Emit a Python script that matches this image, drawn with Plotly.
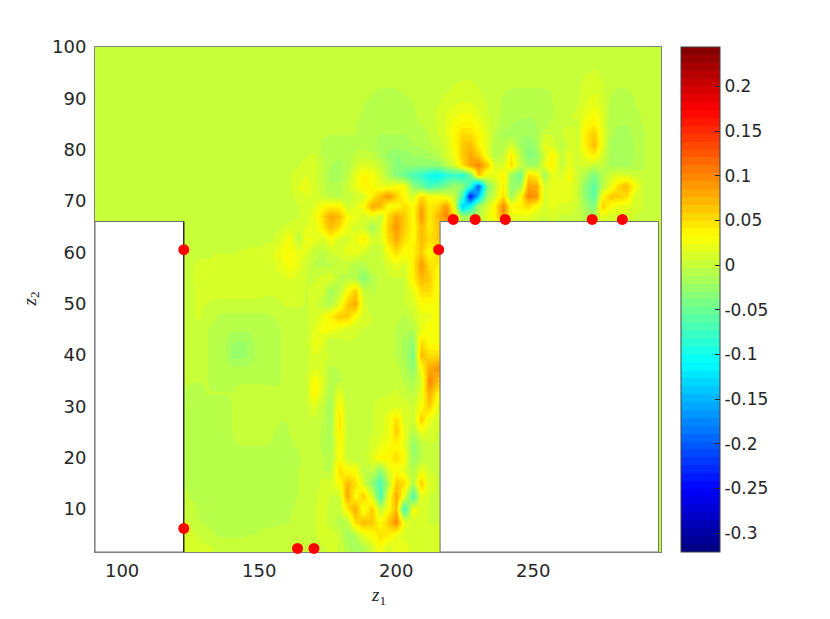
# Vorticity-style field in a cavity (units of 0.01)
import numpy as np
import plotly.graph_objects as go

Z1_UPPER = list(range(155, 297, 3))
Z1_LOWER = list(range(122, 219, 3))
Z1_ALL = [90] + list(range(122, 297, 3))

Z2_UPPER = [98, 94, 91, 89, 87, 85, 83, 81, 79, 77, 75, 73, 71, 69, 67]
Z2_LOWER = [65, 62.5, 60, 57.5, 55, 52.5, 50, 47.5, 45, 42.5, 40, 37.5, 35,
            32.5, 30, 27.5, 25, 22.5, 20, 17.5, 15, 12.5, 10, 7.5, 5, 2.5]

FIELD_UPPER = [
    [0, 0, 0, 0, 0, 0, 0, 0, 0, 0, 0, 0, 0, 0, 0, 0, 0, 0, 0, 0, 0, 0, 0, 0,
     0, 0, 0, 0, 0, 0, 0, 0, 0, 0, 0, 0, 0, 0, 0, 0, 0, 0, 0, 0, 0, 0, 0, 0],
    [0, 0, 0, 0, 0, 0, 0, 0, 0, 0, 0, 0, 0, 0, 0, 0, 0, 0, 0, 0, 0, 0, .3, .5,
     .5, .3, 0, 0, 0, 0, 0, 0, 0, 0, 0, 0, 0, .3, .7, 1, .5, 0, 0, 0, 0, 0, 0, 0],
    [0, 0, 0, 0, 0, 0, 0, 0, 0, 0, 0, 0, -.3, -.5, -.5, -.5, -.3, 0, 0, 0, .3, .5, 1, 1,
     1, .7, .3, 0, -.3, -.5, -.5, -.5, -.5, -.5, -.3, 0, 0, .3, 1, 1.5, .7, -.3, -.5, -.5, -.2, 0, 0, 0],
    [0, 0, 0, 0, 0, 0, 0, 0, 0, 0, 0, -.3, -.7, -1, -1, -1, -.7, -.3, 0, .3, .5, 1, 1.3, 1.5,
     1.5, 1, .5, 0, -.5, -.7, -.7, -.8, -.8, -.7, -.3, 0, .2, .5, 1.5, 2, 1, -.5, -.8, -.8, -.3, 0, 0, 0],
    [0, 0, 0, 0, 0, 0, 0, 0, 0, 0, 0, -.5, -1, -1, -1, -1, -1, -.5, 0, .3, .7, 1.5, 2, 2.5,
     2.5, 1.5, .7, 0, -.5, -1, -1, -1, -1, -.8, -.5, .3, .5, .7, 2, 3, 1.5, -.7, -1, -1, -.5, -.2, 0, 0],
    [0, 0, 0, 0, 0, 0, 0, 0, -.2, -.3, -.3, -.7, -1, -1.2, -1, -1, -1, -.5, -.3, 0, .8, 1.5, 3, 3.5,
     3.5, 2.5, 1, 0, -.7, -1.2, -1.5, -1.7, -1.2, -1, 0, .5, .5, .5, 3, 4, 1.5, -1, -1.2, -1.2, -.7, -.2, 0, 0],
    [0, 0, 0, 0, 0, 0, -.2, -.3, -.3, -.3, -.3, -.7, -1, -1.2, -1.2, -1.2, -1.2, -1, -.7, -.2, .5, 1.5, 3.5, 5,
     5, 3.5, 1.5, -.5, -1.5, -1.5, -2, -2, -1.5, .5, .5, .5, 1, .5, 4, 6, 2, -1, -1.5, -1.5, -1, -.5, 0, 0],
    [0, 0, 0, 0, .2, .2, -.5, -.7, -.8, -.7, -.5, -.7, -1, -1.5, -1.5, -1.7, -1.5, -1.2, -1, -.5, 0, 1, 3, 6,
     7, 4, 1.5, -1, -1, 1, -2, -3, -2, 2, 1, -.7, 1, .5, 4, 7, 2, -1.5, -2, -2, -1, -.5, 0, 0],
    [0, 0, 0, .2, .5, .7, -.5, -1, -1, -.8, -.2, .2, 0, -1.5, -2.5, -3, -2.5, -2, -2, -1.5, -1, 1, 2.5, 6,
     8, 6, 2, -1, 0, 4, -.5, -3.5, -3, .5, 4, 0, 2, .5, 2.5, 4, 1, -1.5, -2, -2, -1, -.5, 0, 0],
    [0, 0, .2, .5, 1, 1, 0, -1.2, -1.5, -1, .5, 1.5, 1, 0, -1.5, -3.5, -3, -3, -3, -3, -3, -1, 1, 5,
     8, 10, 6, 1, 1, 5, 0, -2, -2, 2, 4, 0, 2, .5, 1, 0, 0, -1.5, -1.5, -1.5, -1, -.5, 0, 0],
    [0, 0, .5, 1, 1.5, 1, -.2, -1.5, -1.5, -.5, 2, 3.5, 3, 1, -1.5, -3.5, -5, -7, -8, -10, -11, -9, -8, -9,
     -5, 6, 2, 2, 4, -2, -5, 5, 4, -2, 2, 1, 3, .5, -1.5, -4, -1, .5, 1.5, 1, .5, 0, 0, 0],
    [0, 0, .5, 1.5, 2, 1, 0, -1, -1, .5, 2, 4, 3, 2, 2, 3, 3, -3, -5, -7, -6, -4, -2, -3,
     -8, -20, -4, 0, 4, -3, -2, 8, 8, 1, 2, 2, 2, .5, -3, -6, -1, 2, 5, 7, 3, 0, 0, 0],
    [0, 0, .3, 1, 1.5, 1, .3, -.5, -.5, 0, .5, 1, 4, 7, 9, 6, 3, 1, 5, 3, 3, 2, 0, -7,
     -24, -14, -2, 1, 5, -2, 3, 10, 9, 1, 2, 2, 2, .5, -3, -6, 3, 6, 6, 5, 1, .5, 0, 0],
    [0, 0, .2, .5, 1, 1.5, 3, 4, 3.5, .5, 1.5, 3, 8, 7, 3, 3, 5, 3, 8, 4, 5, 9, 2, -14,
     -10, -2, 1, 4, 10, 3, 4, 5, 3, 1, 2, 1, 1, .5, -2, -4, 6, 3, 2, 2, 1, .5, 0, 0],
    [0, 0, .2, .5, 1, 2, 5, 8, 7, 3, 2, 1, 2, 0, 5, 8, 6, 3, 9, 4, 7, 10, 5, -2,
     -2, -1, 2, 4, 9, 2, 2, 2, 1, .5, 1, .5, .5, .3, -1, -1, 2, 1, 1, 1, .5, .3, 0, 0],
]

FIELD_LOWER = [
    [0, 0, 0, 0, 0, 0, 0, 0, 0, 0, 0, .3, .5, 1, 1, 1.5, 1.5, 4, 7, 5, 2, 1, 1, -2, 1, 6, 9, 6, 3, 7, 4, 6, 6],
    [0, 0, 0, 0, 0, 0, 0, 0, 0, 0, .3, .5, 1.5, 3, -.5, 2.5, 2, 1, 3, 1, 1, 2, 4, 1, 1, 5, 8, 5, 3, 7, 5, 6, 6],
    [0, .3, .3, .3, .5, .5, .5, .7, .8, 1, 1, 1.5, 2.5, 3, 2, 1.5, 0, -.5, .5, 1, 2, 2, 1, 0, 0, 3, 5, 3, 4, 6, 3, 5, 5],
    [.3, .5, .8, .8, 1, 1, 1, 1, 1, 1, 1, 1.2, 2, 3, 2, .5, -.5, -.5, -.5, 0, 0, -1, -1, .5, 0, 1, 2, 1, 4, 9, 5, 4, 4],
    [.2, .5, .8, 1, 1.2, 1.3, 1.3, 1.2, 1, 1, 1, 1, 1.2, 1.5, 1.2, .5, .3, 1, 1.5, -.5, -.5, -.5, -3.5, -1, 0, .5, .5, .5, 4, 7, 6, 3, 3],
    [.2, .5, .7, 1, 1, 1, 1, 1, 1, 1, .8, .7, .8, 1, 1, .5, 1, 1, -2, -.5, 3, 6, .5, -.5, 0, .5, .5, .5, 2, 5, 5, 3, 3],
    [.2, .5, .7, .5, .2, .2, .2, .2, .2, .2, .2, .3, .5, .7, .7, .5, 1, -.5, -1, 2, 6, 8, 1, 0, 0, .5, .5, .5, 1, 3, 3, 3, 3],
    [.2, .5, .7, .2, -.3, -.5, -.5, -.5, -.5, -.5, -.5, -.3, -.2, 0, .2, .3, 1, 2, 4, 6, 6, 3, 1, .5, .5, .5, 0, -.5, .5, 2, 2, 3, 3],
    [.2, .5, .3, -.3, -.5, -.7, -1, -1, -1, -.7, -.5, -.5, -.3, -.2, 0, .3, 1.5, 3, 2.5, 2, 1, .7, .5, .5, .5, .3, -.5, -1, -1, 2, 3, 3, 3],
    [.2, .3, 0, -.3, -.5, -1, -2, -2.3, -2, -1, -.5, -.5, -.3, -.3, -.2, 0, 2.5, 1.5, -.5, 0, .5, .5, .3, .3, .3, 0, -.5, -1.5, -3, 5, 3, 3, 3],
    [0, 0, 0, -.3, -.5, -1, -2.5, -2.5, -2, -1, -.5, -.5, -.3, -.2, 0, 0, 1.5, 1, .5, 0, 0, .3, .3, .3, .3, 0, -.5, -1.5, -4, 7, 5, 5, 5],
    [0, 0, -.2, -.3, -.5, -.7, -1, -1, -1, -.7, -.5, -.5, -.3, -.3, -.2, .3, 1.5, 1, -.5, -.3, 0, .3, .3, .3, .3, .3, 0, -1, -3, 3, 8, 9, 9],
    [-.2, -.3, -.3, -.3, -.5, -.5, -.5, -.5, -.5, -.5, -.5, -.5, -.3, -.3, 0, .3, 3.5, 1.5, -1, -.5, 0, .5, .5, .3, .3, .3, .3, -.5, -1.5, 1, 10, 7, 7],
    [-.3, -.5, -.5, -.3, -.3, -.3, -.3, .2, .3, .3, .2, 0, -.3, -.3, 0, .3, 4, 1, -1.5, 2, -.5, .3, .5, .3, .3, .5, .7, .3, -.5, 2, 8, 4, 3],
    [-.5, -.3, -.5, -.5, -.5, -.5, -.3, .3, .5, .5, .3, 0, -.3, -.3, 0, .3, 1.5, 0, -2, 3.5, 0, .3, .5, .5, 1, 1, 1, 1, .5, 3, 6, 2, 2],
    [-.5, -.5, -.5, -.5, -.5, -.5, -.3, .3, .5, .5, .3, -.2, -.3, -.3, 0, .3, .5, -.3, -2, 4.5, 0, .5, .5, .5, 1, 2, 5, 1, .5, 6, 2, 1, 1],
    [-.5, -.5, -.5, -.5, -.5, -.5, -.3, .2, .5, .5, .3, -.3, -.5, -.3, 0, .3, 0, -.5, -1.5, 4, .5, .3, .3, .5, 1, 2, 6, 2, -1, 2, 1, .5, .5],
    [-.7, -.7, -.7, -.5, -.5, -.5, -.5, -.3, -.3, -.3, -.3, -.5, -.5, -.5, -.2, .3, 0, -.5, -1.5, 3, .5, 0, 0, 1, 2, 3, 3.5, 2, -3, -.5, .5, .5, .5],
    [-.7, -.7, -.7, -.7, -.7, -.7, -.7, -.7, -.7, -.7, -.7, -.7, -.7, -.7, -.5, 0, 0, -.3, -1, 3, .5, 0, 0, 1.5, 3.5, 3.5, 5, 3, -2.5, -.5, .5, .5, .5],
    [-.5, -.7, -.7, -.7, -.7, -.7, -.7, -.7, -.7, -.7, -.7, -.7, -.7, -.5, -.3, 0, 0, -.3, -.5, 5, 3, 3, -.5, 0, -3, 1.5, 3, 1.5, -1, 2, .5, .5, .5],
    [-.3, -.7, -.7, -.7, -.7, -.7, -.7, -.7, -.7, -.7, -.7, -.7, -.7, -.5, -.3, -.2, -.3, 1, 1, 3, 7, 5, 1, -3, -7, -1, 6, 5, -1, 6, 1, .5, .5],
    [.3, -.5, -.7, -.7, -.7, -.7, -.7, -.7, -.7, -.7, -.7, -.7, -.7, -.5, -.3, .2, .3, 1, .5, .5, 8, 3, 6, 1, -7, 2, 8, 2, -7, 2, .5, .5, .5],
    [.5, .2, -.5, -.7, -.7, -.7, -.7, -.7, -.7, -.7, -.7, -.7, -.7, -.5, 0, .3, .5, 1, .3, 0, 4, 8, 2, 6, 0, 3, 7, -8, 3, 1, .5, .5, .5],
    [.7, .5, -.3, -.5, -.7, -.7, -.7, -.7, -.7, -.7, -.7, -.7, -.5, -.3, .3, .5, .5, .8, .3, -1, -.5, 5, 7, 6, 3, 6, 10, 2, 1, 1, .5, .5, .5],
    [.7, .7, .5, .2, -.3, -.5, -.5, -.5, -.3, -.3, .2, .3, .5, .5, .5, .5, .5, .8, 1, .5, -2, -1, 2, 3, 5, 4, 2, 1, 1, 1, 1, 1, 1],
    [.7, .7, .7, .7, .5, .5, .5, .5, .5, .5, .5, .5, .5, .5, .5, .5, .5, .5, .7, .5, -1, -2, -1, 1, 3, 1, 2, 2, 1, 1, 1, 1, 1],
]

MARK_Z1 = [122.5, 122.5, 164, 170, 215.5, 220.8, 228.8, 239.8, 271.5, 282.5]
MARK_Z2 = [60.5, 6.2, 2.3, 2.3, 60.5, 66.4, 66.4, 66.4, 66.4, 66.4]

LEFT_BLOCK_Z1 = [90.1, 122.5, 122.5, 90.1, 90.1]
LEFT_BLOCK_Z2 = [66, 66, 1.6, 1.6, 66]
RIGHT_BLOCK_Z1 = [216, 295.7, 295.7, 216, 216]
RIGHT_BLOCK_Z2 = [66, 66, 1.6, 1.6, 66]

CBAR_TICKS = [0.2, 0.15, 0.1, 0.05, 0, -0.05, -0.1, -0.15, -0.2, -0.25, -0.3]
CBAR_LABELS = ["0.2", "0.15", "0.1", "0.05", "0", "-0.05", "-0.1", "-0.15", "-0.2", "-0.25", "-0.3"]
TEXT_COLOR = "#262626"


def jet_steps(n=64):
    # matlab jet(64) as a stepped plotly colorscale
    scale = []
    for i in range(n):
        t = (i + 0.5) / n
        r = np.clip(min(4 * t - 1.5, -4 * t + 4.5), 0, 1)
        g = np.clip(min(4 * t - 0.5, -4 * t + 3.5), 0, 1)
        b = np.clip(min(4 * t + 0.5, -4 * t + 2.5), 0, 1)
        col = f"rgb({r * 255:.0f},{g * 255:.0f},{b * 255:.0f})"
        scale.append([i / n, col])
        scale.append([(i + 1) / n, col])
    return scale


def build_grid():
    rows = []
    for row in FIELD_UPPER:
        rows.append([0] * (len(Z1_ALL) - len(row)) + list(row))
    for row in FIELD_LOWER:
        rows.append([0, *row] + [0] * (len(Z1_ALL) - len(row) - 1))
    z2 = Z2_UPPER + Z2_LOWER
    return np.array(z2[::-1], dtype=float), np.array(rows[::-1], dtype=float) / 100


z2_grid, field = build_grid()

fig = go.Figure()
fig.add_trace(go.Heatmap(
    x=Z1_ALL, y=z2_grid, z=field, zsmooth="best",
    zmin=-0.321, zmax=0.244, colorscale=jet_steps(),
    colorbar=dict(
        x=1.0353, xanchor="left", xpad=0, ypad=0, y=0.5, yanchor="middle", len=1,
        thickness=39, outlinecolor="#404040", outlinewidth=1,
        ticks="inside", ticklen=5, tickcolor="#262626", tickwidth=1,
        tickvals=CBAR_TICKS, ticktext=CBAR_LABELS,
        tickfont=dict(family="DejaVu Sans", size=17, color=TEXT_COLOR),
    ),
    hoverinfo="skip",
))

fig.add_trace(go.Scatter(
    x=LEFT_BLOCK_Z1, y=LEFT_BLOCK_Z2, mode="lines", fill="toself", fillcolor="white",
    line=dict(color="#707070", width=1), showlegend=False,
))
fig.add_trace(go.Scatter(
    x=RIGHT_BLOCK_Z1, y=RIGHT_BLOCK_Z2, mode="lines", fill="toself", fillcolor="white",
    line=dict(color="#707070", width=1), showlegend=False,
))
fig.add_trace(go.Scatter(
    x=LEFT_BLOCK_Z1[1:3], y=LEFT_BLOCK_Z2[1:3], mode="lines",
    line=dict(color="black", width=1), showlegend=False,
))
fig.add_trace(go.Scatter(
    x=MARK_Z1, y=MARK_Z2, mode="markers", cliponaxis=False,
    marker=dict(color="#ff0000", size=11), showlegend=False,
))

axis_style = dict(
    showgrid=False, zeroline=False, showline=True, linecolor="#808080", linewidth=1,
    mirror="allticks", ticks="inside", ticklen=3, tickcolor="#404040", layer="below traces",
    tickfont=dict(family="DejaVu Sans", size=18, color=TEXT_COLOR),
)
fig.update_xaxes(range=[90.1, 296.6], tickvals=[100, 150, 200, 250], ticklabelstandoff=2, **axis_style)
fig.update_yaxes(range=[1.6, 100], tickvals=list(range(10, 101, 10)), ticklabelstandoff=4, **axis_style)

fig.add_annotation(
    text="<i>z</i><sub>1</sub>", xref="paper", yref="paper", x=0.5, y=0, yshift=-30,
    yanchor="top", showarrow=False,
    font=dict(family="Liberation Serif", size=19, color=TEXT_COLOR),
)
fig.add_annotation(
    text="<i>z</i><sub>2</sub>", xref="paper", yref="paper", x=0, y=0.5, xshift=-51,
    xanchor="right", textangle=-90, showarrow=False,
    font=dict(family="Liberation Serif", size=19, color=TEXT_COLOR),
)

# the page has an 8px body margin, so the figure sits at (8, 8)
fig.update_layout(
    width=814, height=603, margin=dict(l=87, r=161, t=39, b=59),
    paper_bgcolor="white", plot_bgcolor="white", showlegend=False,
)

fig.write_html("out.html")
